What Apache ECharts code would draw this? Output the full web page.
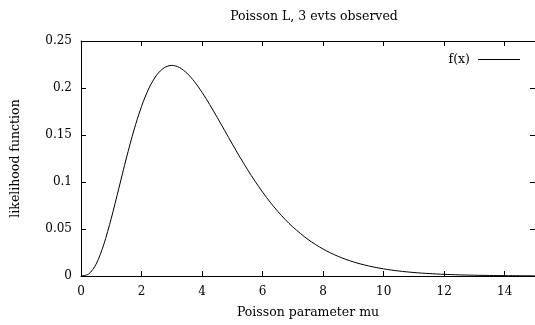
<!DOCTYPE html>
<html>
<head>
<meta charset="utf-8">
<script src="https://cdn.jsdelivr.net/npm/echarts@6/dist/echarts.min.js"></script>
<style>html,body{margin:0;padding:0;background:#fff}#c{width:535px;height:325px}</style>
</head>
<body>
<div id="c"></div>
<script>
var titleText = 'Poisson L, 3 evts observed';
var xName = 'Poisson parameter mu';
var yName = 'likelihood function';
var seriesName = 'f(x)';
var muValues = [0, 0.25, 0.5, 0.75, 1, 1.25, 1.5, 1.75, 2, 2.25, 2.5, 2.75, 3, 3.25, 3.5, 3.75, 4, 4.25, 4.5, 4.75, 5, 5.25, 5.5, 5.75, 6, 6.25, 6.5, 6.75, 7, 7.5, 8, 8.5, 9, 9.5, 10, 10.5, 11, 11.5, 12, 12.5, 13, 13.5, 14, 14.5, 15];
var likelihood = [0, 0.00203, 0.01264, 0.03321, 0.06131, 0.09326, 0.12551, 0.15522, 0.18045, 0.20009, 0.21376, 0.22158, 0.22404, 0.22184, 0.21578, 0.20670, 0.19537, 0.18250, 0.16872, 0.15454, 0.14037, 0.12656, 0.11332, 0.10085, 0.08924, 0.07855, 0.06881, 0.06002, 0.05213, 0.03889, 0.02863, 0.02083, 0.01499, 0.01070, 0.00757, 0.00531, 0.00371, 0.00257, 0.00177, 0.00121, 0.00083, 0.00056, 0.00038, 0.00026, 0.00017];
var xTicks = [0, 2, 4, 6, 8, 10, 12, 14];
var yTicks = [0, 0.05, 0.1, 0.15, 0.2, 0.25];

var FONT = 'DejaVu Serif';
var data = muValues.map(function (m, i) { return [m, likelihood[i]]; });
var chart = echarts.init(document.getElementById('c'), null, {renderer: 'canvas'});
var xLabelFmt = function (v) { return xTicks.indexOf(v) >= 0 ? String(v) : ''; };
var yLabelFmt = function (v) {
  for (var i = 0; i < yTicks.length; i++) if (Math.abs(yTicks[i] - v) < 1e-9) return String(yTicks[i]);
  return '';
};
var tick = {show: true, inside: true, length: 5, lineStyle: {color: '#000', width: 1}};
var line = {show: true, onZero: false, lineStyle: {color: '#000', width: 1}};
chart.setOption({
  animation: false,
  backgroundColor: '#fff',
  title: {
    text: titleText, left: 309, top: 5, textAlign: 'center',
    textStyle: {fontFamily: FONT, fontSize: 12.5, fontWeight: 'normal', color: '#000'}
  },
  legend: {
    right: 10, top: 48, align: 'right', itemWidth: 42, itemHeight: 1, icon: 'rect',
    textStyle: {fontFamily: FONT, fontSize: 12.5, color: '#000', padding: [0, 3, 0, 0]},
    data: [{name: seriesName, itemStyle: {color: '#000'}}]
  },
  grid: {left: 81, right: 0, top: 41, bottom: 49, containLabel: false, outerBoundsMode: 'none'},
  xAxis: [{
    type: 'value', min: 0, max: 15, interval: 2, position: 'bottom',
    name: xName, nameLocation: 'middle', nameGap: 30,
    nameTextStyle: {fontFamily: FONT, fontSize: 12.5, color: '#000'},
    axisLine: line, axisTick: tick,
    axisLabel: {fontFamily: FONT, fontSize: 12, color: '#000', margin: 10, formatter: xLabelFmt, showMaxLabel: false},
    splitLine: {show: false}
  }, {
    type: 'value', min: 0, max: 15, interval: 2, position: 'top',
    axisLine: line, axisTick: tick,
    axisLabel: {show: false}, splitLine: {show: false}
  }],
  yAxis: [{
    type: 'value', min: 0, max: 0.25, interval: 0.05, position: 'left',
    name: yName, nameLocation: 'middle', nameGap: 59, nameRotate: 90,
    nameTextStyle: {fontFamily: FONT, fontSize: 12.5, color: '#000'},
    axisLine: line, axisTick: tick,
    axisLabel: {fontFamily: FONT, fontSize: 12, color: '#000', margin: 9, formatter: yLabelFmt},
    splitLine: {show: false}
  }, {
    type: 'value', min: 0, max: 0.25, interval: 0.05, position: 'right',
    axisLine: line, axisTick: tick,
    axisLabel: {show: false}, splitLine: {show: false}
  }],
  series: [{
    name: seriesName, type: 'line', data: data, smooth: 0.3,
    showSymbol: false, symbol: 'none',
    lineStyle: {color: '#000', width: 1},
    itemStyle: {color: '#000'}
  }]
});
</script>
</body>
</html>
